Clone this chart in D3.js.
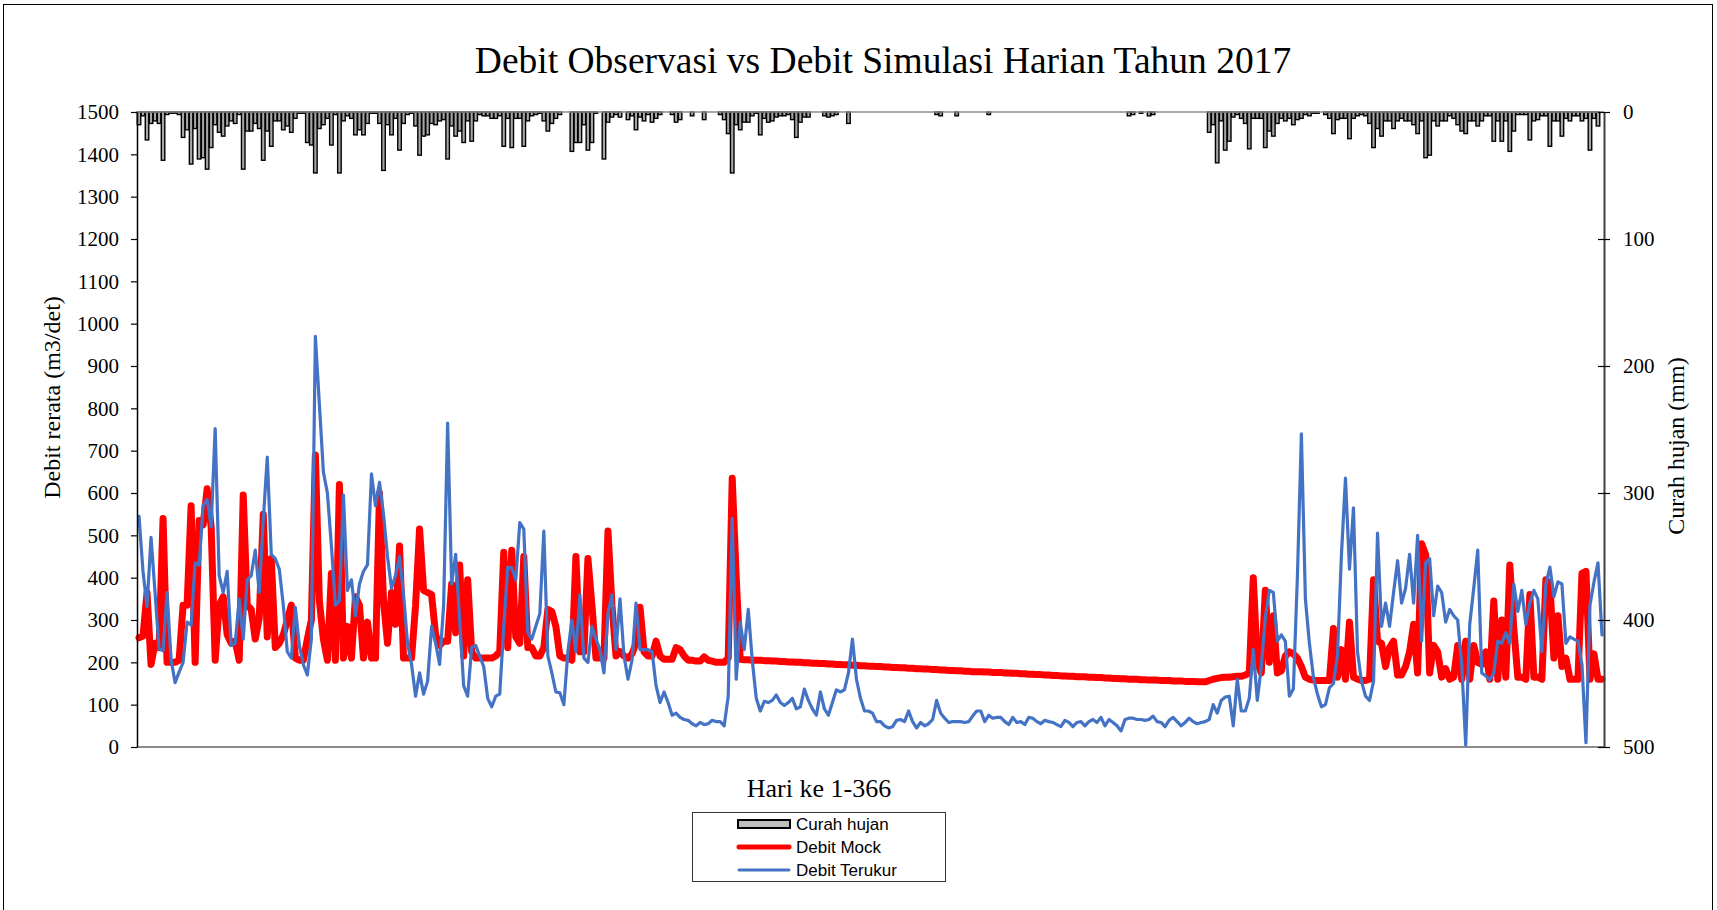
<!DOCTYPE html>
<html>
<head>
<meta charset="utf-8">
<script src="https://cdn.jsdelivr.net/npm/d3@7"></script>
<style>
  body { margin: 0; background: #fff; }
  svg { display: block; }
</style>
</head>
<body>
<div id="chart"></div>
<script>
// Curah hujan harian (mm), hari 1-366
const hujan = [
  10,3,22,9,7,9,38,2,1,1, 2,20,14,41,13,37,36,45,28,10,
  16,19,11,7,9,2,45,15,15,9, 13,38,15,27,7,7,14,11,16,5,
  1,1,24,26,48,13,10,5,26,2, 48,7,3,5,18,14,18,9,1,1,
  9,46,10,18,5,30,9,2,1,11, 34,19,18,9,10,7,6,37,11,19,
  15,24,7,23,7,2,3,3,5,5, 3,27,5,28,5,5,27,7,3,2,
  1,7,15,9,5,2,0,0,31,24, 24,10,30,24,1,0,37,8,4,2,
  4,0,6,3,14,4,7,2,8,5, 2,0,0,2,8,6,0,0,3,0,
  0,6,0,0,0,2,6,17,48,10, 14,8,8,3,1,18,5,8,7,4,
  3,3,2,6,20,8,4,4,0,0, 0,3,4,3,2,0,0,9,0,0,
  0,0,0,0,0,0,0,0,0,0, 0,0,0,0,0,0,0,0,0,2,
  3,0,0,0,3,0,0,0,0,0, 0,0,2,0,0,0,0,0,0,0,
  0,0,0,0,0,0,0,0,0,0, 0,0,0,0,0,0,0,0,0,0,
  0,0,0,0,0,0,0,3,2,0, 1,0,3,2,0,0,0,0,0,0,
  0,0,0,0,0,0,0,16,10,40, 7,30,23,4,2,5,9,29,5,5,
  5,28,15,19,9,5,7,5,10,6, 5,2,3,1,1,0,2,5,17,6,
  5,5,21,5,3,2,3,9,28,13, 19,7,7,13,7,5,7,7,10,17,
  7,36,34,7,11,7,7,3,5,10, 15,17,7,7,11,7,3,3,23,7,
  23,7,31,15,2,2,2,22,7,6, 3,3,27,7,7,19,5,7,3,3,
  7,5,30,5,11,0
];

// Debit simulasi Mock (m3/det)
const debitMock = [
  258,262,365,195,245,235,540,200,200,200, 205,335,335,570,200,535,525,610,520,205,
  335,355,265,245,250,205,595,335,325,255, 305,550,260,445,235,245,265,300,335,210,
  205,205,255,300,690,345,255,205,410,205, 620,210,285,210,355,335,210,295,210,210,
  600,345,245,365,290,475,210,210,210,335, 515,370,365,360,265,240,250,250,385,270,
  430,215,395,225,210,210,210,210,210,215, 225,460,235,465,260,245,450,235,235,215,
  215,235,325,320,285,215,210,210,205,450, 225,225,445,335,210,210,210,510,335,215,
  225,215,210,220,245,330,225,215,215,250, 215,207,207,207,235,230,215,205,205,203,
  203,213,205,203,200,200,200,210,635,400, 207,206,206,205,205,205,204,204,203,203,
  202,202,201,201,200,200,199,199,198,198, 197,197,196,196,195,195,194,194,193,193,
  192,192,191,191,190,190,189,189,188,188, 187,187,186,186,185,185,184,184,183,183,
  182,182,181,181,180,180,179,179,178,178, 178,177,177,176,176,176,175,175,174,174,
  173,173,172,172,171,171,170,170,169,169, 168,168,167,167,166,166,166,165,165,164,
  164,163,163,162,162,161,161,160,160,160, 159,159,158,158,158,157,157,157,156,156,
  156,155,155,155,154,154,154,157,160,162, 164,165,165,166,167,167,170,175,400,200,
  175,370,200,310,175,180,215,225,220,210, 190,165,160,158,157,157,157,157,280,165,
  230,160,295,165,160,157,157,160,395,250, 245,190,235,250,170,170,190,225,290,175,
  480,455,175,240,225,165,185,160,165,240, 160,250,160,240,200,195,225,160,345,160,
  300,165,430,280,165,165,160,360,165,165, 160,395,385,210,310,190,210,160,160,160,
  410,415,160,220,160,160
];

// Debit terukur (m3/det)
const debitTerukur = [
  545,415,332,495,365,232,227,365,207,152, 177,200,295,288,435,430,570,585,520,752,
  405,365,415,240,245,350,255,395,405,465, 365,535,685,455,445,420,335,225,210,330,
  240,195,170,255,970,810,650,600,475,335, 345,595,370,395,310,385,415,430,645,570,
  625,550,450,375,405,450,360,245,195,120, 175,125,155,285,245,195,335,765,385,455,
  300,145,120,235,240,215,190,115,95,120, 125,285,425,423,395,530,515,270,255,285,
  315,510,215,175,130,128,100,225,300,225, 360,210,200,285,255,230,175,315,360,230,
  350,215,160,205,340,230,230,230,225,145, 105,130,105,75,80,70,65,63,55,50,
  58,53,55,63,60,60,50,120,540,160, 295,230,325,205,115,85,108,105,110,123,
  105,98,105,115,90,95,137,110,90,75, 130,90,75,105,135,130,135,175,255,160,
  115,85,85,80,60,60,50,45,48,63, 65,60,85,60,45,58,50,55,65,110,
  80,68,58,60,60,60,58,60,73,85, 85,60,75,68,70,70,60,53,70,58,
  60,53,70,68,60,55,63,60,58,53, 48,63,58,48,58,60,50,60,65,58,
  70,50,65,58,50,38,65,68,68,65, 65,63,65,73,60,58,48,63,70,60,
  50,58,68,60,55,58,60,65,100,80, 110,118,120,50,160,85,85,115,230,110,
  190,305,370,365,250,265,250,120,137,400, 740,350,245,165,125,95,100,140,150,215,
  455,635,420,565,225,155,120,110,155,505, 285,340,285,365,440,340,375,455,340,500,
  250,435,445,310,380,365,295,325,310,300, 195,5,290,375,465,175,168,158,175,250,
  245,270,245,385,320,370,290,340,370,350, 225,385,425,355,390,385,245,260,255,250,
  195,10,335,390,435,265
];

const hari = d3.range(1, hujan.length + 1);
const debitTicks = d3.range(0, 1501, 100);
const hujanTicks = d3.range(0, 501, 100);

const width = 1717, height = 910;
const margin = {left: 137, right: 1604, top: 112, bottom: 747};
const serif = "'Liberation Serif', 'Times New Roman', serif";
const sans = "'Liberation Sans', Arial, sans-serif";

const svg = d3.select("#chart").append("svg")
    .attr("width", width)
    .attr("height", height);

svg.append("rect")
    .attr("width", width).attr("height", height)
    .attr("fill", "#fff");

// chart frame (bottom edge falls outside the picture)
svg.append("rect")
    .attr("x", 3.5).attr("y", 4.5)
    .attr("width", 1709).attr("height", 930)
    .attr("fill", "none")
    .attr("stroke", "#000")
    .attr("stroke-width", 1);

// scales
const x = d3.scaleBand()
    .domain(hari)
    .range([margin.left, margin.right])
    .paddingInner(0.12)
    .paddingOuter(0.06);

const yDebit = d3.scaleLinear()
    .domain([0, 1500])
    .range([margin.bottom, margin.top]);

// secondary axis reversed: 0 at top
const yHujan = d3.scaleLinear()
    .domain([0, 500])
    .range([margin.top, margin.bottom]);

const cx = d => x(d) + x.bandwidth() / 2;

// rain bars hanging from the top
svg.append("g")
    .selectAll("rect")
    .data(hari)
    .join("rect")
    .attr("x", d => x(d))
    .attr("y", yHujan(0))
    .attr("width", x.bandwidth())
    .attr("height", (d, i) => yHujan(hujan[i]) - yHujan(0))
    .attr("fill", "#a6a6a6")
    .attr("stroke", "#000")
    .attr("stroke-width", 1.4);

// top and bottom horizontal axis lines
svg.append("line")
    .attr("x1", margin.left).attr("x2", margin.right)
    .attr("y1", margin.top).attr("y2", margin.top)
    .attr("stroke", "#8c8c8c").attr("stroke-width", 1.5);

svg.append("line")
    .attr("x1", margin.left).attr("x2", margin.right)
    .attr("y1", margin.bottom).attr("y2", margin.bottom)
    .attr("stroke", "#8c8c8c").attr("stroke-width", 2);

// lines
const line = d3.line()
    .x(d => cx(d.hari))
    .y(d => yDebit(d.value));

svg.append("path")
    .datum(hari.map((d, i) => ({hari: d, value: debitMock[i]})))
    .attr("fill", "none")
    .attr("stroke", "#ff0000")
    .attr("stroke-width", 7)
    .attr("stroke-linejoin", "round")
    .attr("stroke-linecap", "round")
    .attr("d", line);

svg.append("path")
    .datum(hari.map((d, i) => ({hari: d, value: debitTerukur[i]})))
    .attr("fill", "none")
    .attr("stroke", "#4472c4")
    .attr("stroke-width", 3.2)
    .attr("stroke-linejoin", "round")
    .attr("stroke-linecap", "round")
    .attr("d", line);

// left axis
const leftAxis = svg.append("g")
    .attr("transform", `translate(${margin.left},0)`)
    .call(d3.axisLeft(yDebit).tickValues(debitTicks).tickFormat(d3.format("d"))
        .tickSize(6).tickSizeOuter(0).tickPadding(12));
leftAxis.select(".domain").attr("stroke", "#000").attr("stroke-width", 1.5);
leftAxis.selectAll(".tick line").attr("stroke", "#000").attr("stroke-width", 1.2);
leftAxis.selectAll("text")
    .style("font-family", serif)
    .style("font-size", "21px")
    .attr("fill", "#000");

// right axis (ticks cross the line)
const rightAxis = svg.append("g")
    .attr("transform", `translate(${margin.right},0)`)
    .call(d3.axisRight(yHujan).tickValues(hujanTicks).tickFormat(d3.format("d"))
        .tickSize(6).tickSizeOuter(0).tickPadding(13));
rightAxis.select(".domain").attr("stroke", "#404040").attr("stroke-width", 2);
rightAxis.selectAll(".tick line").attr("x1", -6).attr("stroke", "#000").attr("stroke-width", 1.2);
rightAxis.selectAll("text")
    .style("font-family", serif)
    .style("font-size", "21px")
    .attr("fill", "#000");

// titles
svg.append("text")
    .attr("x", 883).attr("y", 73)
    .attr("text-anchor", "middle")
    .style("font-family", serif)
    .style("font-size", "37.5px")
    .text("Debit Observasi vs Debit Simulasi Harian Tahun 2017");

svg.append("text")
    .attr("x", 819).attr("y", 797)
    .attr("text-anchor", "middle")
    .style("font-family", serif)
    .style("font-size", "26px")
    .text("Hari ke 1-366");

svg.append("text")
    .attr("transform", "translate(51.5,397.5) rotate(-90)")
    .attr("dy", "0.35em")
    .attr("text-anchor", "middle")
    .style("font-family", serif)
    .style("font-size", "24px")
    .text("Debit rerata (m3/det)");

svg.append("text")
    .attr("transform", "translate(1676,446) rotate(-90)")
    .attr("dy", "0.35em")
    .attr("text-anchor", "middle")
    .style("font-family", serif)
    .style("font-size", "24px")
    .text("Curah hujan (mm)");

// legend
const legend = svg.append("g");
legend.append("rect")
    .attr("x", 692.5).attr("y", 812.5)
    .attr("width", 253).attr("height", 69)
    .attr("fill", "#fff")
    .attr("stroke", "#333")
    .attr("stroke-width", 1);

const legendItems = [
  {label: "Curah hujan", type: "bar"},
  {label: "Debit Mock", type: "line", color: "#ff0000", w: 5},
  {label: "Debit Terukur", type: "line", color: "#4472c4", w: 3}
];

legendItems.forEach((item, i) => {
  const yy = 824 + i * 23;
  if (item.type === "bar") {
    legend.append("rect")
        .attr("x", 738).attr("y", yy - 4)
        .attr("width", 52).attr("height", 8)
        .attr("fill", "#bfbfbf")
        .attr("stroke", "#000")
        .attr("stroke-width", 2);
  } else {
    legend.append("line")
        .attr("x1", 739).attr("x2", 789)
        .attr("y1", yy).attr("y2", yy)
        .attr("stroke", item.color)
        .attr("stroke-width", item.w)
        .attr("stroke-linecap", "round");
  }
  legend.append("text")
      .attr("x", 796).attr("y", yy)
      .attr("dy", "0.35em")
      .style("font-family", sans)
      .style("font-size", "17px")
      .text(item.label);
});
</script>
</body>
</html>
